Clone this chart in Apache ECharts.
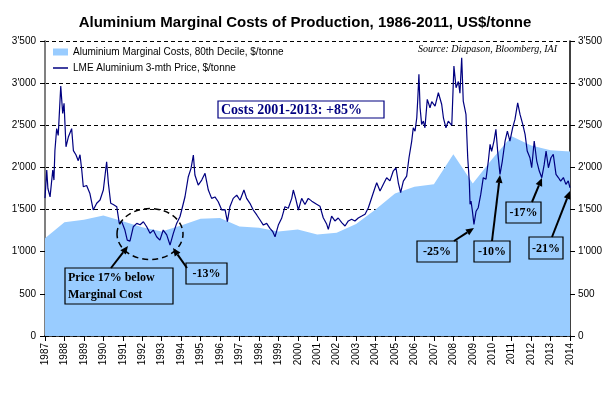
<!DOCTYPE html>
<html>
<head>
<meta charset="utf-8">
<script src="https://cdn.jsdelivr.net/npm/echarts@6/dist/echarts.min.js"></script>
<style>
html, body { margin: 0; padding: 0; background: #fff; }
#chart { width: 610px; height: 397px; }
</style>
</head>
<body>
<div id="chart"></div>
<script>
// marginal cost, yearly points (80th decile)
var costYears = [1987, 1988, 1989, 1990, 1991, 1992, 1993, 1994, 1995, 1996, 1997, 1998, 1999, 2000,
	2001, 2002, 2003, 2004, 2005, 2006, 2007, 2008, 2009, 2010, 2011, 2012, 2013, 2014];
var costValues = [1160, 1350, 1380, 1430, 1360, 1290, 1240, 1310, 1390, 1400, 1300, 1285, 1240, 1265,
	1205, 1225, 1330, 1500, 1690, 1770, 1800, 2155, 1810, 2100, 2370, 2260, 2205, 2190];

// LME 3-month price
var priceDates = [
	1987.00, 1987.09, 1987.15, 1987.26, 1987.40, 1987.46, 1987.51, 1987.60, 1987.68, 1987.81, 1987.91, 1987.98,
	1988.08, 1988.20, 1988.37, 1988.46, 1988.59, 1988.71, 1988.80, 1988.89, 1988.97,
	1989.14, 1989.31, 1989.48, 1989.66, 1989.83, 1990.00, 1990.17, 1990.26, 1990.38, 1990.51, 1990.69, 1990.82, 1990.94,
	1991.11, 1991.23, 1991.37, 1991.54, 1991.72, 1991.89, 1992.06, 1992.23, 1992.40, 1992.57, 1992.74, 1992.91,
	1993.08, 1993.26, 1993.43, 1993.60, 1993.77, 1993.94, 1994.03, 1994.20, 1994.37, 1994.51, 1994.63, 1994.71, 1994.88,
	1995.06, 1995.23, 1995.40, 1995.57, 1995.74, 1995.91, 1996.09, 1996.26, 1996.38, 1996.51, 1996.68, 1996.86,
	1997.03, 1997.23, 1997.37, 1997.54, 1997.71, 1997.89, 1998.06, 1998.23, 1998.40, 1998.57, 1998.71, 1998.83,
	1999.00, 1999.17, 1999.34, 1999.51, 1999.69, 1999.77, 1999.89, 2000.03, 2000.20, 2000.37, 2000.54, 2000.72,
	2000.80, 2000.97, 2001.14, 2001.31, 2001.49, 2001.57, 2001.74, 2001.91, 2002.08, 2002.26, 2002.43, 2002.60,
	2002.77, 2002.94, 2003.11, 2003.29, 2003.46, 2003.63, 2003.80, 2003.97, 2004.06, 2004.23, 2004.40, 2004.57,
	2004.74, 2004.91, 2005.05, 2005.17, 2005.29, 2005.43, 2005.60, 2005.72, 2005.86, 2005.94, 2006.03, 2006.12,
	2006.17, 2006.23, 2006.29, 2006.37, 2006.46, 2006.54, 2006.66, 2006.80, 2006.89, 2007.06, 2007.23, 2007.40,
	2007.49, 2007.62, 2007.74, 2007.92, 2008.03, 2008.14, 2008.26, 2008.34, 2008.43, 2008.51, 2008.65, 2008.74,
	2008.82, 2008.86, 2008.91, 2008.98, 2009.06, 2009.17, 2009.28, 2009.41, 2009.54, 2009.68, 2009.80, 2009.89,
	2009.97, 2010.09, 2010.19, 2010.28, 2010.40, 2010.52, 2010.66, 2010.78, 2010.91, 2011.05, 2011.17, 2011.31,
	2011.43, 2011.57, 2011.69, 2011.80, 2011.94, 2012.03, 2012.16, 2012.29, 2012.42, 2012.55, 2012.67, 2012.77,
	2012.89, 2013.02, 2013.14, 2013.28, 2013.40, 2013.52, 2013.66, 2013.79, 2013.91, 2014.00
];
var priceValues = [
	1636, 1970, 1750, 1650, 1970, 1850, 2200, 2460, 2380, 2965, 2640, 2760,
	2245, 2360, 2460, 2200, 2150, 2080, 2150, 1970, 1770,
	1785, 1690, 1495, 1575, 1613, 1732, 2067, 1811, 1575, 1560, 1534, 1336, 1360,
	1257, 1138, 1126, 1296, 1336, 1320, 1356, 1296, 1218, 1257, 1178, 1138,
	1257, 1200, 1079, 1218, 1336, 1415, 1495, 1652, 1890, 1989, 2147, 1910, 1791,
	1850, 1930, 1732, 1633, 1650, 1593, 1495, 1500, 1356, 1534, 1633, 1672,
	1610, 1732, 1633, 1574, 1495, 1436, 1376, 1316, 1336, 1277, 1240, 1178,
	1316, 1396, 1534, 1515, 1633, 1732, 1633, 1495, 1633, 1560, 1633, 1600,
	1601, 1562, 1540, 1403, 1325, 1265, 1423, 1365, 1400, 1345, 1305, 1365,
	1385, 1365, 1400, 1423, 1445, 1522, 1640, 1759, 1818, 1720, 1800, 1878,
	1840, 1957, 1996, 1818, 1700, 1837, 1897, 2115, 2313, 2470, 2430, 2589,
	2807, 3104, 2708, 2511, 2550, 2470, 2807, 2708, 2780, 2728, 2886, 2750,
	2589, 2470, 2550, 2500, 3202, 2945, 3020, 2880, 3301, 2787, 2629, 2115,
	1838, 1562, 1600, 1483, 1325, 1480, 1522, 1680, 1878, 1860, 2076, 2273,
	2190, 2313, 2451, 2190, 1918, 2076, 2313, 2431, 2313, 2470, 2570, 2767,
	2629, 2511, 2392, 2194, 2115, 1996, 2313, 2076, 1957, 1878, 2030, 2194,
	1996, 2115, 2155, 1918, 1880, 1838, 1880, 1799, 1840, 1759
];

function fmtThousands(v){
	if (v < 1000) return '' + v;
	var rest = v % 1000;
	return Math.floor(v / 1000) + "'" + (rest < 10 ? '00' : rest < 100 ? '0' : '') + rest;
}

// arrow with filled head, tip at (x2,y2)
function arrow(x1, y1, x2, y2){
	var dx = x2 - x1, dy = y2 - y1;
	var len = Math.sqrt(dx * dx + dy * dy);
	var ux = dx / len, uy = dy / len;
	var L = 8, W = 3.5;
	var bx = x2 - ux * L, by = y2 - uy * L;
	return [
		{ type: 'line', z: 100, shape: { x1: x1, y1: y1, x2: bx, y2: by }, style: { stroke: '#000', lineWidth: 2 } },
		{ type: 'polygon', z: 100, shape: { points: [[x2, y2], [bx - uy * W, by + ux * W], [bx + uy * W, by - ux * W]] }, style: { fill: '#000' } }
	];
}

function box(x, y, w, h, lines, color, tx, size){
	var els = [{ type: 'rect', z: 100, shape: { x: x, y: y, width: w, height: h }, style: { fill: 'transparent', stroke: color, lineWidth: 1.2 } }];
	els.push({
		type: 'text', z: 101, x: tx === undefined ? x + w / 2 : tx, y: y + h / 2 + 0.5,
		style: {
			text: lines, fill: color, font: 'bold ' + (size || 12) + 'px "Liberation Serif", "Times New Roman", serif',
			align: tx === undefined ? 'center' : 'left', verticalAlign: 'middle', lineHeight: 17
		}
	});
	return els;
}

var graphics = [];
graphics.push({
	type: 'text', z: 100, x: 557, y: 49,
	style: { text: 'Source: Diapason, Bloomberg, IAI', fill: '#000', font: 'italic 10px "Liberation Serif", "Times New Roman", serif', align: 'right', verticalAlign: 'middle' }
});
graphics = graphics.concat(box(218, 101, 166, 17, 'Costs 2001-2013: +85%', '#000080', 221, 14));
graphics.push({
	type: 'ellipse', z: 100, shape: { cx: 150, cy: 234, rx: 33, ry: 25.5 },
	style: { fill: 'transparent', stroke: '#000', lineWidth: 1.5, lineDash: [6, 4] }
});
graphics = graphics.concat(box(65, 268, 108, 36, 'Price 17% below\nMarginal Cost', '#000', 68));
graphics = graphics.concat(arrow(111, 268, 128, 246));
graphics = graphics.concat(box(186, 263, 41, 21, '-13%', '#000'));
graphics = graphics.concat(arrow(187, 268, 173, 248));
graphics = graphics.concat(box(417, 241, 40, 21, '-25%', '#000'));
graphics = graphics.concat(arrow(454, 241, 474, 228));
graphics = graphics.concat(box(474, 241, 36, 21, '-10%', '#000'));
graphics = graphics.concat(arrow(492, 241, 500, 175));
graphics = graphics.concat(box(506, 202, 35, 21, '-17%', '#000'));
graphics = graphics.concat(arrow(532, 202, 542, 178));
graphics = graphics.concat(box(529, 237, 34, 22, '-21%', '#000'));
graphics = graphics.concat(arrow(552, 237, 570, 191));

var myChart = echarts.init(document.getElementById('chart'));
var option = {
	animation: false,
	backgroundColor: '#fff',
	textStyle: { fontFamily: 'Arial, "Liberation Sans", sans-serif' },
	title: {
		text: 'Aluminium Marginal Costs of Production, 1986-2011, US$/tonne',
		left: 'center',
		top: 15,
		padding: 0,
		textStyle: { fontSize: 15, fontWeight: 'bold', color: '#000', fontFamily: 'Arial, "Liberation Sans", sans-serif' }
	},
	legend: {
		orient: 'vertical',
		left: 53,
		top: 47,
		itemWidth: 15,
		itemHeight: 7,
		itemGap: 6,
		padding: 0,
		textStyle: { fontSize: 10, color: '#000' },
		data: [
			{ name: 'Aluminium Marginal Costs, 80th Decile, $/tonne', icon: 'rect' },
			{ name: 'LME Aluminium 3-mth Price, $/tonne', icon: 'path://M0,0H30V3H0Z' }
		]
	},
	grid: { left: 45, right: 40, top: 41, bottom: 61, containLabel: false },
	xAxis: {
		type: 'value',
		min: 1987,
		max: 2014,
		interval: 1,
		axisLine: { lineStyle: { color: '#000', width: 1.5 } },
		axisTick: { inside: false, length: 5, lineStyle: { color: '#000' } },
		axisLabel: { rotate: 90, fontSize: 10, color: '#000', margin: 7, formatter: function(v){ return '' + v; } },
		splitLine: { show: false }
	},
	yAxis: [
		{
			type: 'value', min: 0, max: 3500, interval: 500, position: 'left',
			axisLine: { show: true, lineStyle: { color: '#808080', width: 2 } },
			axisTick: { show: true, length: 5, lineStyle: { color: '#000' } },
			axisLabel: { fontSize: 10, color: '#000', margin: 9, formatter: fmtThousands },
			splitLine: { show: true, lineStyle: { color: '#000', type: [4, 3], width: 1 } }
		},
		{
			type: 'value', min: 0, max: 3500, interval: 500, position: 'right',
			axisLine: { show: true, lineStyle: { color: '#000', width: 1.5 } },
			axisTick: { show: true, length: 5, lineStyle: { color: '#000' } },
			axisLabel: { fontSize: 10, color: '#000', margin: 8, formatter: fmtThousands },
			splitLine: { show: false }
		}
	],
	series: [
		{
			name: 'Aluminium Marginal Costs, 80th Decile, $/tonne',
			type: 'line',
			symbol: 'none',
			itemStyle: { color: '#99CCFF' },
			lineStyle: { width: 0, color: '#99CCFF' },
			areaStyle: { color: '#99CCFF', opacity: 1 },
			data: costYears.map(function(y, i){ return [y, costValues[i]]; })
		},
		{
			name: 'LME Aluminium 3-mth Price, $/tonne',
			type: 'line',
			symbol: 'none',
			itemStyle: { color: '#000080' },
			lineStyle: { width: 1.2, color: '#000080' },
			data: priceDates.map(function(d, i){ return [d, priceValues[i]]; })
		}
	],
	graphic: graphics
};
myChart.setOption(option);
</script>
</body>
</html>
